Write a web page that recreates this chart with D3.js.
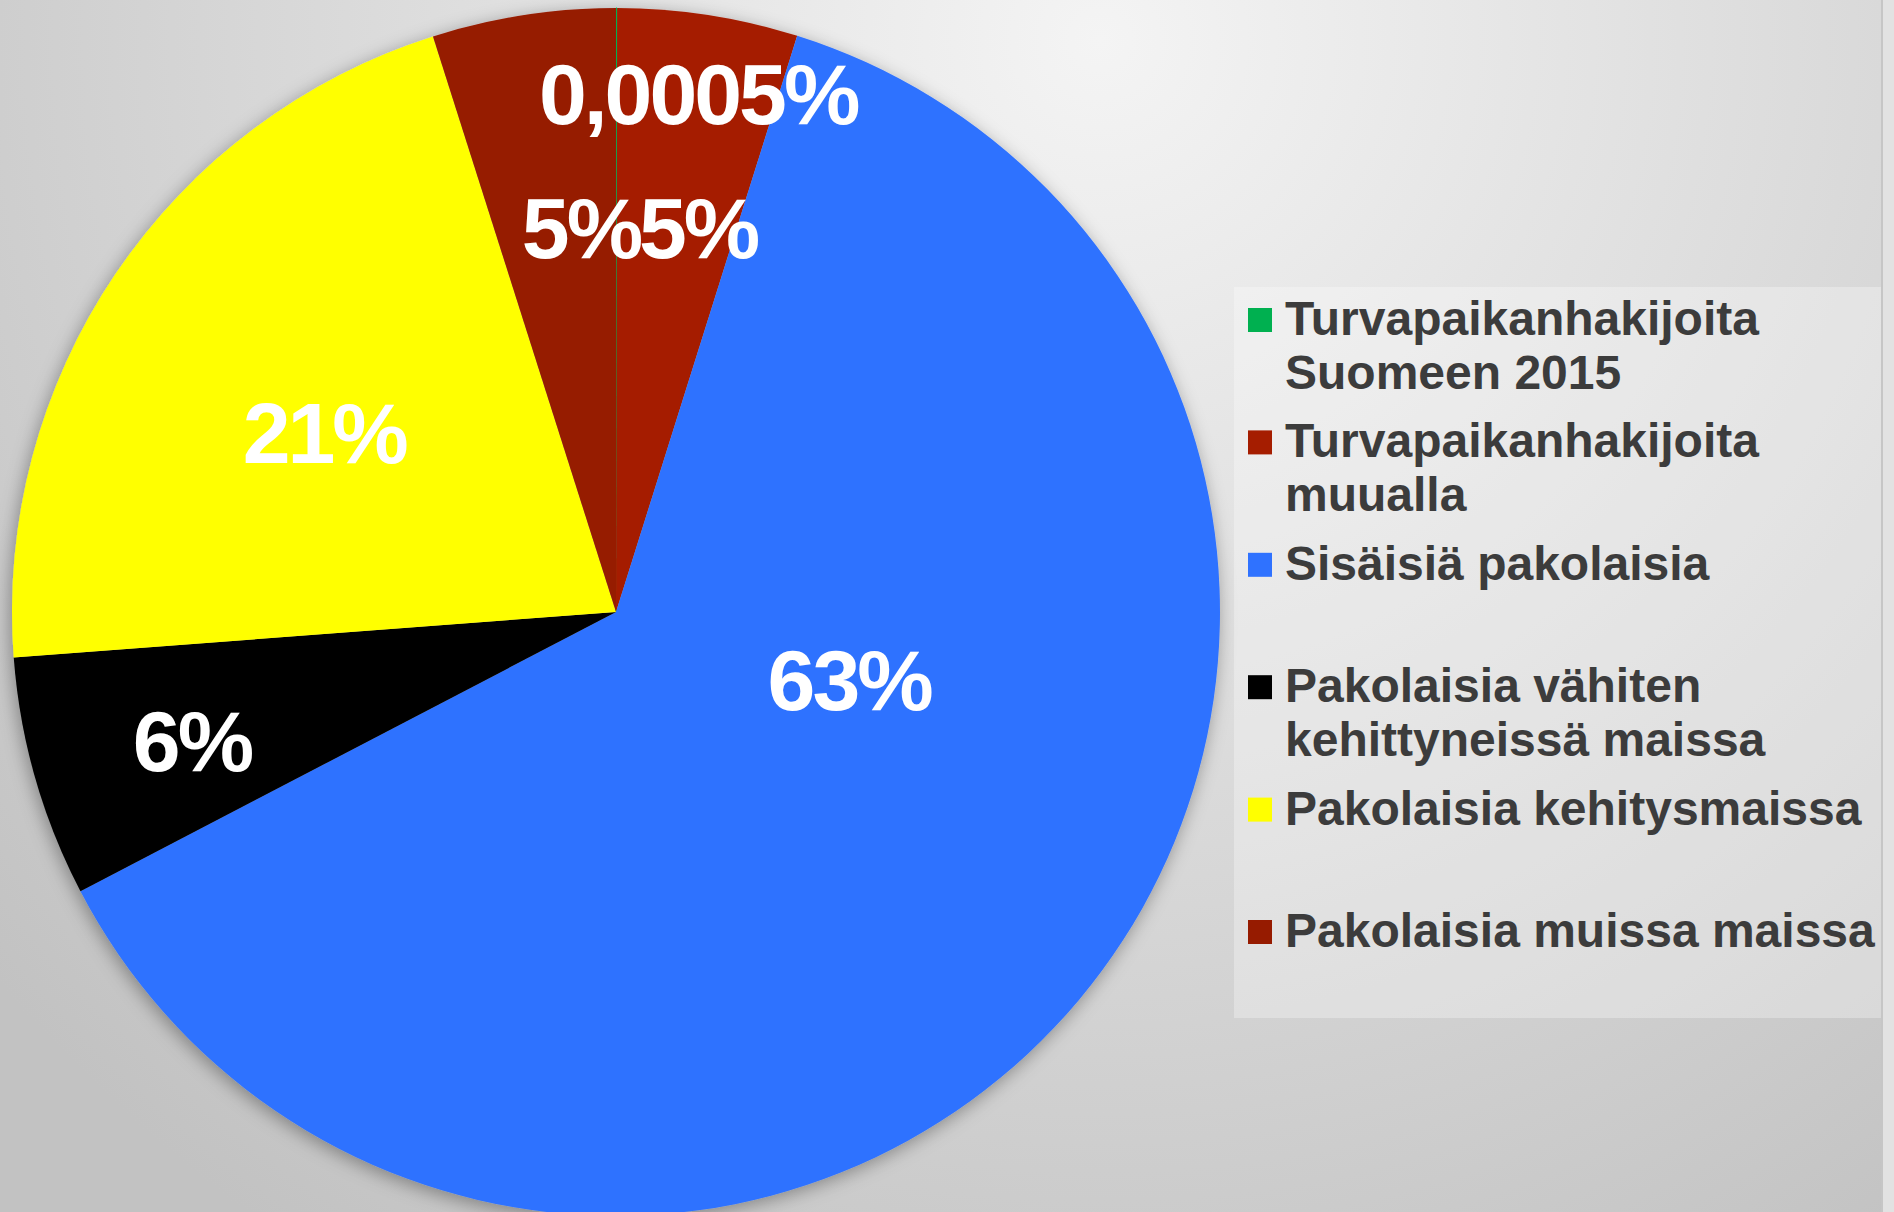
<!DOCTYPE html>
<html>
<head>
<meta charset="utf-8">
<script src="https://cdn.jsdelivr.net/npm/d3@7"></script>
<style>
  html, body { margin: 0; padding: 0; overflow: hidden; }
  svg { display: block; }
</style>
</head>
<body>
<div id="chart"></div>
<script>
// data, clockwise from 12 o'clock (share of all displaced people, %)
var categories = [
    "Turvapaikanhakijoita Suomeen 2015",
    "Turvapaikanhakijoita muualla",
    "Sisäisiä pakolaisia",
    "Pakolaisia vähiten kehittyneissä maissa",
    "Pakolaisia kehitysmaissa",
    "Pakolaisia muissa maissa"
];
var values = [0.03, 4.82, 62.5, 6.45, 21.3, 4.9];
var valueLabels = ["0,0005%", "5%", "63%", "6%", "21%", "5%"];
var legendLines = [
    ["Turvapaikanhakijoita", "Suomeen 2015"],
    ["Turvapaikanhakijoita", "muualla"],
    ["Sisäisiä pakolaisia"],
    ["Pakolaisia vähiten", "kehittyneissä maissa"],
    ["Pakolaisia kehitysmaissa"],
    ["Pakolaisia muissa maissa"]
];
var colors = ["#00b050", "#a51d00", "#2f72ff", "#000000", "#ffff00", "#961b00"];

// labels were dragged by hand in the original, so place them relative to the pie (in radii)
var labelPos = [[0.136, -0.808], [0.136, -0.586], [0.386, 0.162], [-0.702, 0.263], [-0.483, -0.247], [-0.058, -0.586]];

var width = 1894;
var height = 1212;
var radius = 604;
var cx = 616, cy = 612;

var svg = d3.select("#chart")
    .append("svg")
    .attr("width", width)
    .attr("height", height);

var defs = svg.append("defs");

var bg = defs.append("radialGradient")
    .attr("id", "bg")
    .attr("gradientUnits", "userSpaceOnUse")
    .attr("cx", 1100).attr("cy", 40).attr("r", 1450);
bg.append("stop").attr("offset", "0%").attr("stop-color", "#f4f4f4");
bg.append("stop").attr("offset", "100%").attr("stop-color", "#c2c2c2");

var shadow = defs.append("filter")
    .attr("id", "shadow")
    .attr("x", "-10%").attr("y", "-10%")
    .attr("width", "120%").attr("height", "120%");
shadow.append("feDropShadow")
    .attr("dx", -2).attr("dy", 4)
    .attr("stdDeviation", 9)
    .attr("flood-color", "#000")
    .attr("flood-opacity", 0.35);

svg.append("rect")
    .attr("width", width)
    .attr("height", height)
    .attr("fill", "url(#bg)");

// slide edge at the far right
svg.append("rect")
    .attr("x", 1881).attr("y", 0)
    .attr("width", 2).attr("height", height)
    .attr("fill", "#c6c6c6");
svg.append("rect")
    .attr("x", 1883).attr("y", 0)
    .attr("width", 11).attr("height", height)
    .attr("fill", "#e2e2e2");

// legend panel
svg.append("rect")
    .attr("x", 1234).attr("y", 287)
    .attr("width", 647).attr("height", 731)
    .attr("fill", "#ffffff")
    .attr("fill-opacity", 0.3);

var g = svg.append("g")
    .attr("transform", "translate(" + cx + "," + cy + ")");

var pie = d3.pie()
    .value(function (d) { return d; })
    .sort(null);

var arc = d3.arc()
    .innerRadius(0)
    .outerRadius(radius);

var arcs = pie(values);

g.append("g")
    .attr("filter", "url(#shadow)")
    .selectAll("path")
    .data(arcs)
    .enter()
    .append("path")
    .attr("d", arc)
    .attr("fill", function (d, i) { return colors[i]; })
    .attr("stroke", function (d, i) { return i === 0 ? colors[0] : "none"; })
    .attr("stroke-width", 1);

g.selectAll("text.val")
    .data(arcs)
    .enter()
    .append("text")
    .attr("class", "val")
    .attr("x", function (d, i) { return labelPos[i][0] * radius; })
    .attr("y", function (d, i) { return labelPos[i][1] * radius; })
    .attr("text-anchor", "middle")
    .attr("fill", "#ffffff")
    .attr("font-family", "'Liberation Sans', Arial, sans-serif")
    .attr("font-weight", "bold")
    .attr("font-size", 86)
    .attr("letter-spacing", -3)
    .text(function (d, i) { return valueLabels[i]; });

// legend
var legend = svg.append("g")
    .attr("transform", "translate(1248,335)");

var item = legend.selectAll("g")
    .data(categories)
    .enter()
    .append("g")
    .attr("transform", function (d, i) { return "translate(0," + (i * 122.4) + ")"; });

item.append("rect")
    .attr("x", 0).attr("y", -27)
    .attr("width", 24).attr("height", 24)
    .attr("fill", function (d, i) { return colors[i]; });

item.append("text")
    .attr("fill", "#3c3c3c")
    .attr("font-family", "'Liberation Sans', Arial, sans-serif")
    .attr("font-weight", "bold")
    .attr("font-size", 48)
    .selectAll("tspan")
    .data(function (d, i) { return legendLines[i]; })
    .enter()
    .append("tspan")
    .attr("x", 37)
    .attr("y", function (d, j) { return j * 54; })
    .text(function (d) { return d; });
</script>
</body>
</html>
